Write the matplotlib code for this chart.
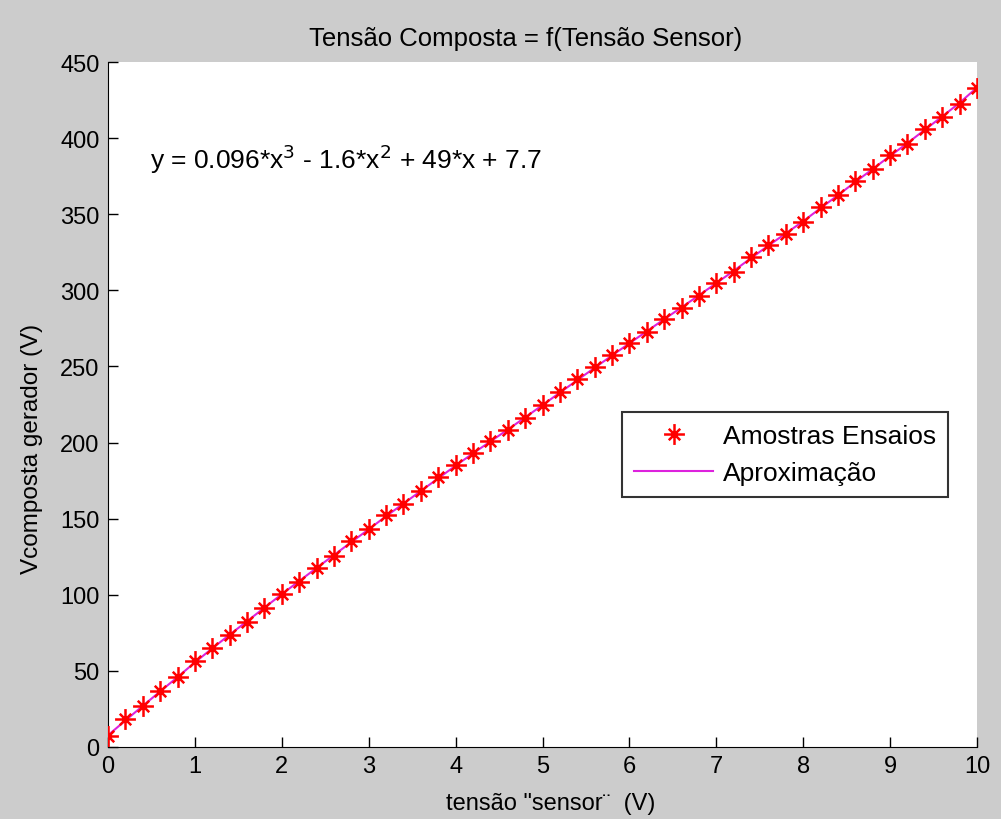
import numpy as np
import matplotlib.pyplot as plt
from matplotlib.path import Path
from matplotlib.lines import Line2D

plt.rcParams['font.family'] = ['Liberation Sans', 'DejaVu Sans']

x_sensor = [0.0, 0.2, 0.4, 0.6, 0.8, 1.0, 1.2, 1.4, 1.6, 1.8,
            2.0, 2.2, 2.4, 2.6, 2.8, 3.0, 3.2, 3.4, 3.6, 3.8,
            4.0, 4.2, 4.4, 4.6, 4.8, 5.0, 5.2, 5.4, 5.6, 5.8,
            6.0, 6.2, 6.4, 6.6, 6.8, 7.0, 7.2, 7.4, 7.6, 7.8,
            8.0, 8.2, 8.4, 8.6, 8.8, 9.0, 9.2, 9.4, 9.6, 9.8, 10.0]
v_amostras = [7.4, 18.3, 27.1, 36.5, 45.7, 56.2, 65.3, 73.4, 82.4, 91.5,
              100.7, 108.6, 117.8, 125.8, 135.2, 142.9, 152.2, 159.9, 168.0, 177.1,
              185.0, 193.1, 200.7, 208.4, 216.1, 224.8, 233.5, 241.6, 249.5, 257.5,
              265.2, 272.8, 280.9, 288.5, 296.4, 304.5, 312.1, 322.0, 329.6, 337.3,
              344.9, 354.7, 362.4, 371.6, 379.4, 388.6, 396.3, 406.1, 413.7, 422.5, 432.8]
# curva aproximada (passa pelos marcadores)
v_aprox = [7.7, 17.4, 27.0, 36.5, 45.9, 55.6, 64.8, 73.8, 82.6, 91.5,
           100.4, 109.0, 117.6, 126.1, 134.6, 143.0, 151.6, 159.9, 168.2, 176.5,
           184.8, 192.9, 200.7, 208.5, 216.5, 224.6, 232.8, 241.0, 249.1, 257.2,
           265.2, 273.1, 281.0, 288.8, 296.7, 304.7, 312.8, 321.2, 329.4, 337.4,
           345.4, 354.0, 362.5, 371.2, 379.7, 388.3, 396.7, 405.5, 414.2, 423.2, 433.2]

# marcador estilo MATLAB '*' (+ com x)
d = 0.55
star = Path([(-1, 0), (1, 0), (0, -1), (0, 1), (-d, -d), (d, d), (-d, d), (d, -d)],
            [Path.MOVETO, Path.LINETO] * 4)

fig = plt.figure(figsize=(10.01, 8.2), dpi=100, facecolor='#cccccc')
ax = fig.add_axes([108 / 1001, 1 - 748 / 820, (977 - 108) / 1001, (748 - 63) / 820])

ax.plot(x_sensor, v_aprox, color='#dd22dd', lw=1.5, zorder=2)
ax.plot(x_sensor, v_amostras, ls='none', marker=star, ms=15, mew=1.8,
        mec='#ff0000', mfc='none', zorder=3)

ax.set_xlim(0, 10)
ax.set_ylim(0, 450)
ax.set_xticks(range(0, 11))
ax.set_yticks(range(0, 451, 50))
ax.tick_params(direction='in', length=7, width=1, labelsize=17, pad=6)
for s in ['top', 'right']:
    ax.spines[s].set_visible(False)

ax.set_title('Tensão Composta = f(Tensão Sensor)', fontsize=18.5, pad=12, x=0.481)
ax.set_xlabel('tensão "sensor¨  (V)', fontsize=17, labelpad=3)
ax.xaxis.set_label_coords(0.509, -0.065)
ax.set_ylabel('Vcomposta gerador (V)', fontsize=17.5)
ax.yaxis.set_label_coords(-0.075, 0.436)

ax.text(0.48, 387, r'y = 0.096*x$^3$ - 1.6*x$^2$ + 49*x + 7.7', fontsize=19,
        va='center', ha='left')

handles = [Line2D([], [], ls='none', marker=star, ms=15, mew=1.8, mec='#ff0000'),
           Line2D([], [], color='#dd22dd', lw=1.5)]
leg = ax.legend(handles, ['Amostras Ensaios', 'Aproximação'], loc='upper left',
                bbox_to_anchor=(0.592, 0.489), fontsize=19, frameon=True,
                fancybox=False, edgecolor='black', handlelength=3.0,
                borderpad=0.45, labelspacing=0.5, handletextpad=0.35,
                borderaxespad=0)
leg.get_frame().set_linewidth(1.5)

fig.savefig('out.png', dpi=100, facecolor=fig.get_facecolor())
